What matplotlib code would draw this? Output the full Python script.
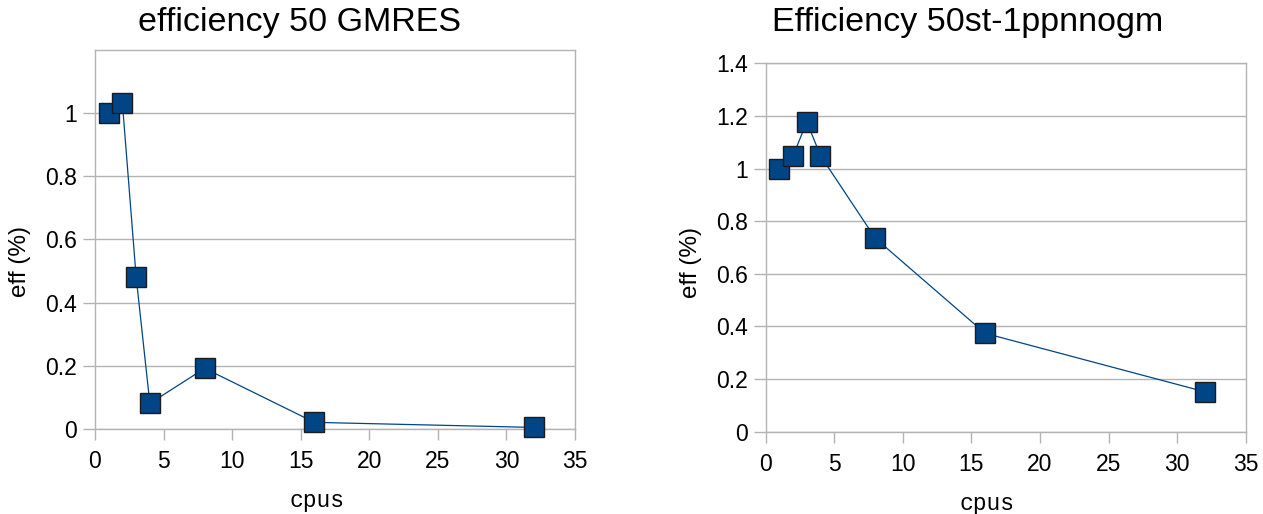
import matplotlib.pyplot as plt

# data
cpus = [1, 2, 3, 4, 8, 16, 32]
eff_gmres = [1.0, 1.031, 0.482, 0.081, 0.192, 0.021, 0.005]
eff_nogm = [1.0, 1.048, 1.178, 1.049, 0.735, 0.374, 0.152]

titles = ["efficiency 50 GMRES", "Efficiency 50st-1ppnnogm"]
ylims = [1.2, 1.4]
yticks_l = [[0, 0.2, 0.4, 0.6, 0.8, 1], [0, 0.2, 0.4, 0.6, 0.8, 1, 1.2, 1.4]]
xticks = [0, 5, 10, 15, 20, 25, 30, 35]

plt.rcParams['font.family'] = ['Liberation Sans', 'DejaVu Sans']
fig = plt.figure(figsize=(12.63, 5.14), dpi=100)

rects = [[0.0752, 0.1654, 0.3801, 0.7373], [0.6062, 0.1601, 0.3801, 0.7167]]
title_x = [0.237, 0.766]
ylab_y = [0.443, 0.458]  # axis labels sit a bit off-centre in the original
grid_c = '#b3b3b3'
blue = '#004586'

for i, series in enumerate([eff_gmres, eff_nogm]):
    ax = fig.add_axes(rects[i])
    ax.plot(cpus, series, color=blue, lw=0.9, marker='s', markersize=14,
            markerfacecolor=blue, markeredgecolor='#1c1c1c', markeredgewidth=1.0,
            clip_on=False, zorder=3)
    ax.set_xlim(0, 35)
    ax.set_ylim(0, ylims[i])
    ax.set_xticks(xticks)
    ax.set_yticks(yticks_l[i])
    ax.set_yticklabels(['%g' % v for v in yticks_l[i]])
    ax.grid(axis='y', color=grid_c, lw=1.0)
    ax.set_axisbelow(True)
    for s in ax.spines.values():
        s.set_color(grid_c)
        s.set_linewidth(1.0)
    ax.tick_params(axis='both', colors=grid_c, labelcolor='black', labelsize=16.5,
                   width=1.0, direction='out')
    ax.tick_params(axis='x', length=8, pad=7)
    ax.tick_params(axis='y', length=9, pad=4)
    fig.text(title_x[i], 0.957, titles[i], fontsize=24.5, ha='center', va='center')
    ax.set_ylabel('eff (%)', fontsize=17.5, labelpad=10)
    ax.set_xlabel('cpus', fontsize=16.5, labelpad=12,
                  family=['Liberation Mono', 'DejaVu Sans Mono'])
    ax.xaxis.label.set_x(0.462)
    ax.yaxis.label.set_y(ylab_y[i])

plt.savefig('out.png', dpi=100)
